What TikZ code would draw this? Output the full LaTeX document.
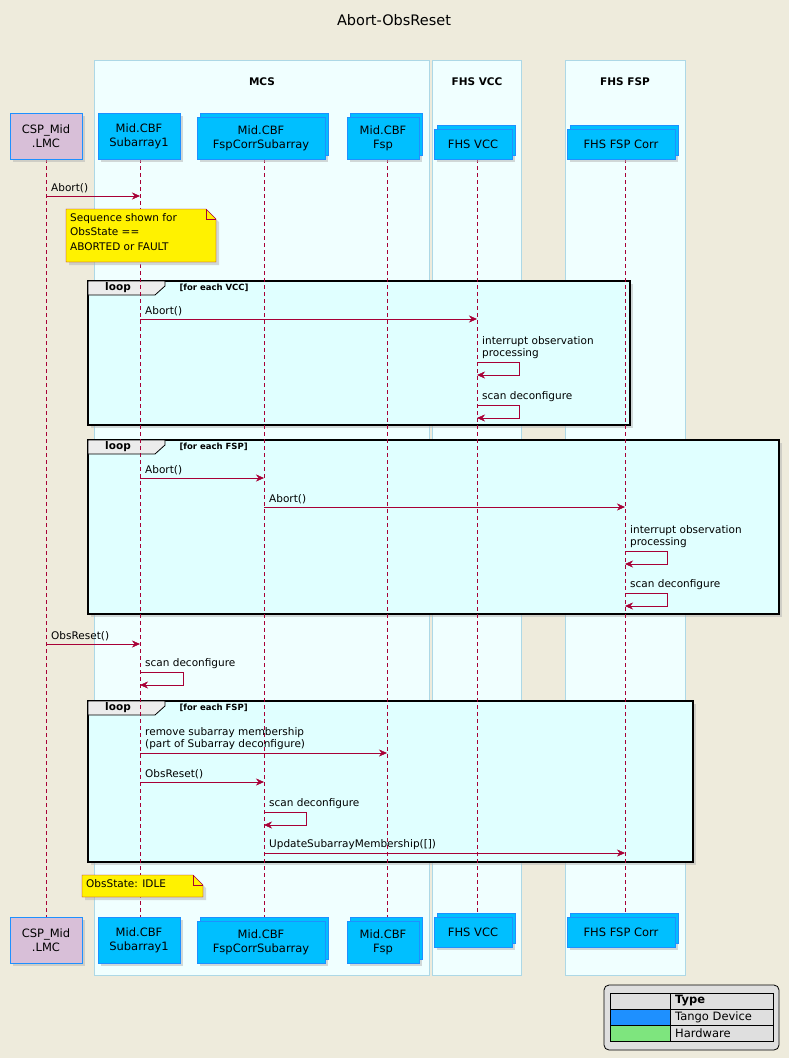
\documentclass[tikz,border=0pt]{standalone}
\usepackage{fontspec}
\setmainfont{DejaVu Sans}
\usetikzlibrary{arrows.meta,shadows}
\definecolor{bgc}{HTML}{EEEBDC}
\definecolor{boxc}{HTML}{F0FFFF}
\definecolor{boxl}{HTML}{ADD8E6}
\definecolor{tango}{HTML}{00BFFF}
\definecolor{tangol}{HTML}{1E90FF}
\definecolor{lmc}{HTML}{D8BFD8}
\definecolor{msgc}{HTML}{A80036}
\definecolor{loopc}{HTML}{E0FFFF}
\tikzset{
  part/.style={draw=tangol, fill=tango, align=center, font=\fontsize{11.5}{14}\selectfont, drop shadow={shadow xshift=3pt, shadow yshift=-3pt, fill=gray!60}},
  stack/.style={copy shadow={shadow xshift=3pt, shadow yshift=4pt, fill=tango, draw=tangol}},
  msg/.style={draw=msgc, -{Stealth[length=8pt,width=7pt]}},
  lbl/.style={font=\fontsize{10.5}{12.5}\selectfont, align=left, anchor=south west, inner sep=1pt},
  life/.style={draw=msgc, dashed, dash pattern=on 4pt off 3pt},
  loopbox/.style={draw=black, line width=1.5pt, fill=loopc, drop shadow={shadow xshift=3pt, shadow yshift=-3pt, fill=gray!60}},
  notebox/.style={draw=msgc, fill=yellow, drop shadow={shadow xshift=3pt, shadow yshift=-3pt, fill=gray!60}}
}
\newcommand{\selfmsg}[4]{% x, y, text, width
  \node[lbl] at (#1+4,#2-2) {#3};
  \draw[msg] (#1,#2) -- (#1+#4,#2) -- (#1+#4,#2+13) -- (#1,#2+13);
}
\newcommand{\loopfrm}[5]{% x1, y1, x2, y2, condition
  \draw[loopbox] (#1,#2) rectangle (#3,#4);
  \draw[fill=gray!15, line width=0.8pt] (#1,#2) -- (#1+77,#2) -- (#1+77,#2+5) -- (#1+67,#2+14) -- (#1,#2+14) -- cycle;
  \node[font=\bfseries\fontsize{10.5}{12}\selectfont] at (#1+30,#2+7) {loop};
  \node[font=\bfseries\fontsize{8.5}{10}\selectfont, anchor=west] at (#1+88,#2+7) {#5};
}
\newcommand{\note}[5]{% x1, y1, x2, y2, text
  \draw[notebox] (#1,#2) -- (#3-10,#2) -- (#3,#2+10) -- (#3,#4) -- (#1,#4) -- cycle;
  \draw[msgc] (#3-10,#2) -- (#3-10,#2+10) -- (#3,#2+10);
  \node[font=\fontsize{10.5}{14.5}\selectfont, align=left, anchor=north west, inner sep=0pt] at (#1+4,#2+4) {#5};
}
\begin{document}
\begin{tikzpicture}[x=1pt, y=-1pt]
\fill[bgc] (0,0) rectangle (789,1058);
\useasboundingbox (0,0) rectangle (789,1058);
\node[font=\fontsize{14.5}{17}\selectfont] (title) at (394,20) {Abort-ObsReset};

% groups
\draw[boxl, fill=boxc] (94,60) rectangle (429,975);
\draw[boxl, fill=boxc] (432,60) rectangle (521,975);
\draw[boxl, fill=boxc] (565,60) rectangle (685,975);
\node[font=\bfseries\fontsize{10.5}{12}\selectfont] (gmcs) at (262,82) {MCS};
\node[font=\bfseries\fontsize{10.5}{12}\selectfont] (gvcc) at (477,82) {FHS VCC};
\node[font=\bfseries\fontsize{10.5}{12}\selectfont] (gfsp) at (625,82) {FHS FSP};

% loop frames
\loopfrm{88}{281}{630}{425}{[for each VCC]}
\loopfrm{88}{440}{779}{614}{[for each FSP]}
\loopfrm{88}{701}{693}{862}{[for each FSP]}

% lifelines
\foreach \x in {46,140,264,387,477,625} \draw[life] (\x,159) -- (\x,917);

% participants, top and bottom
\foreach \y/\t in {136/t, 940/b} {
  \node[part, fill=lmc, minimum width=72pt, minimum height=46pt] (lmc\t) at (46,\y) {CSP\_Mid\\.LMC};
  \node[part, minimum width=82pt, minimum height=46pt] (sub\t) at (139,\y) {Mid.CBF\\Subarray1};
  \node[part, stack, minimum width=128pt, minimum height=42pt] (fcs\t) at (261,\y+2) {Mid.CBF\\FspCorrSubarray};
  \node[part, stack, minimum width=72pt, minimum height=42pt] (fsp\t) at (383,\y+2) {Mid.CBF\\Fsp};
}
\node[part, stack, minimum width=78pt, minimum height=30pt] (vcct) at (473,144) {FHS VCC};
\node[part, stack, minimum width=108pt, minimum height=30pt] (fhsfspt) at (621,144) {FHS FSP Corr};
\node[part, stack, minimum width=78pt, minimum height=30pt] (vccb) at (473,932) {FHS VCC};
\node[part, stack, minimum width=108pt, minimum height=30pt] (fhsfspb) at (621,932) {FHS FSP Corr};

% Abort
\draw[msg] (46,196) -- (140,196);
\node[lbl] at (50,194) {Abort()};
\note{66}{209}{216}{262}{Sequence shown for\\ObsState ==\\ABORTED or FAULT}

\draw[msg] (140,319) -- (477,319);
\node[lbl] at (144,317) {Abort()};
\node[lbl] at (481,360) {interrupt observation\\processing};
\draw[msg] (477,362) -- (519,362) -- (519,375) -- (477,375);
\selfmsg{477}{405}{scan deconfigure}{42}

\draw[msg] (140,478) -- (264,478);
\node[lbl] at (144,476) {Abort()};
\draw[msg] (264,507) -- (625,507);
\node[lbl] at (268,505) {Abort()};
\node[lbl] at (629,549) {interrupt observation\\processing};
\draw[msg] (625,551) -- (667,551) -- (667,564) -- (625,564);
\selfmsg{625}{593}{scan deconfigure}{42}

% ObsReset
\draw[msg] (46,644) -- (140,644);
\node[lbl] at (50,642) {ObsReset()};
\selfmsg{140}{672}{scan deconfigure}{43}

\draw[msg] (140,753) -- (387,753);
\node[lbl] at (144,751) {remove subarray membership\\(part of Subarray deconfigure)};
\draw[msg] (140,782) -- (264,782);
\node[lbl] at (144,780) {ObsReset()};
\selfmsg{264}{812}{scan deconfigure}{42}
\draw[msg] (264,853) -- (625,853);
\node[lbl] at (268,851) {UpdateSubarrayMembership([])};

\note{82}{875}{203}{897}{ObsState: IDLE}

% legend
\draw[rounded corners=5pt, fill=gray!25, line width=0.8pt] (604,985) rectangle (779,1050);
\draw[fill=gray!25] (610,993) rectangle (773,1041);
\fill[tangol] (610,1009) rectangle (670,1025);
\fill[green!45!white!90!black] (610,1025) rectangle (670,1041);
\draw (610,993) rectangle (773,1041) (670,993) -- (670,1041) (610,1009) -- (773,1009) (610,1025) -- (773,1025);
\node[font=\bfseries\fontsize{11.5}{13}\selectfont, anchor=west, inner sep=0pt] (lgtype) at (675,1001) {Type};
\node[font=\fontsize{11.5}{13}\selectfont, anchor=west, inner sep=0pt] (lgtango) at (675,1017) {Tango Device};
\node[font=\fontsize{11.5}{13}\selectfont, anchor=west, inner sep=0pt] (lghw) at (675,1033) {Hardware};
\end{tikzpicture}
\end{document}
